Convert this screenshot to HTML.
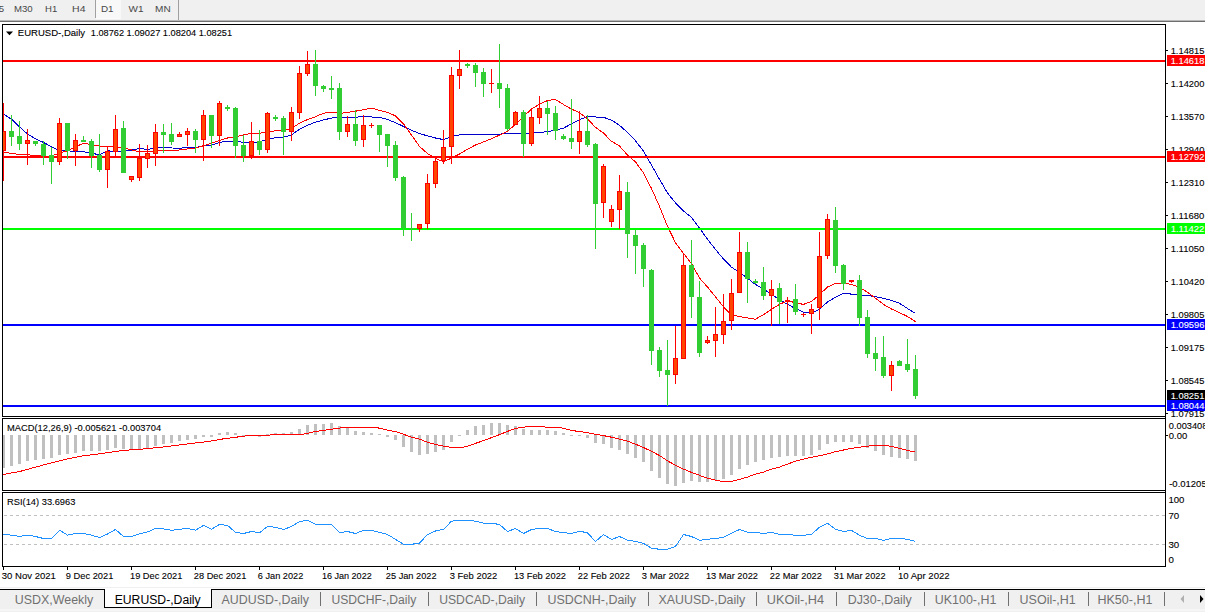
<!DOCTYPE html>
<html><head><meta charset="utf-8"><title>EURUSD Daily</title>
<style>
html,body{margin:0;padding:0;background:#fff}
body{width:1205px;height:612px;overflow:hidden;position:relative;font-family:"Liberation Sans",sans-serif}
svg{position:absolute;left:0;top:0;display:block}
text{font-family:"Liberation Sans",sans-serif;white-space:pre}
</style></head><body>
<svg width="1205" height="612" viewBox="0 0 1205 612">
<rect x="0" y="0" width="1205" height="20" fill="#f0f0f0"/>
<rect x="0" y="20" width="1205" height="1" fill="#b8b8b8"/>
<rect x="0" y="21" width="1205" height="1" fill="#6e6e6e"/>
<rect x="96" y="0" width="25" height="18" fill="#f8f8f8"/>
<rect x="96" y="18" width="25" height="1" fill="#fbfbfb"/>
<rect x="95" y="0" width="1" height="18" fill="#a0a0a0"/>
<rect x="178" y="0" width="1" height="20" fill="#a0a0a0"/>
<text x="-1.2" y="12.2" font-size="9.6" fill="#484848" stroke="#484848" stroke-width="0">5</text>
<text x="14.0" y="12.2" font-size="9.6" fill="#484848" stroke="#484848" stroke-width="0" textLength="18.7" lengthAdjust="spacingAndGlyphs">M30</text>
<text x="45.0" y="12.2" font-size="9.6" fill="#484848" stroke="#484848" stroke-width="0" textLength="12.2" lengthAdjust="spacingAndGlyphs">H1</text>
<text x="72.1" y="12.2" font-size="9.6" fill="#484848" stroke="#484848" stroke-width="0" textLength="13.4" lengthAdjust="spacingAndGlyphs">H4</text>
<text x="101.0" y="12.2" font-size="9.6" fill="#484848" stroke="#484848" stroke-width="0" textLength="12.6" lengthAdjust="spacingAndGlyphs">D1</text>
<text x="128.6" y="12.2" font-size="9.6" fill="#484848" stroke="#484848" stroke-width="0" textLength="15.0" lengthAdjust="spacingAndGlyphs">W1</text>
<text x="155.1" y="12.2" font-size="9.6" fill="#484848" stroke="#484848" stroke-width="0" textLength="15.6" lengthAdjust="spacingAndGlyphs">MN</text>
<rect x="2" y="24" width="1164" height="1" fill="#000"/>
<rect x="2" y="24" width="1" height="393" fill="#000"/>
<rect x="2" y="416" width="1164" height="1" fill="#000"/>
<rect x="2" y="418" width="1164" height="1" fill="#000"/>
<rect x="2" y="418" width="1" height="73" fill="#000"/>
<rect x="2" y="490" width="1164" height="1" fill="#000"/>
<rect x="2" y="492" width="1164" height="1" fill="#000"/>
<rect x="2" y="492" width="1" height="75" fill="#000"/>
<rect x="2" y="566" width="1164" height="1" fill="#000"/>
<rect x="1165" y="24" width="1" height="543" fill="#000"/>
<g shape-rendering="crispEdges">
<polyline points="3.5,114.2 11.5,119.2 19.5,126.9 27.5,134.0 35.5,138.9 43.5,142.4 51.5,146.7 59.5,150.5 67.5,150.9 75.5,151.3 83.5,151.6 91.5,153.3 99.5,154.7 107.5,150.9 115.5,151.3 123.5,151.3 131.5,150.2 139.5,148.5 147.5,149.5 155.5,148.1 163.5,147.4 171.5,148.0 179.5,148.1 187.5,147.8 195.5,147.5 203.5,146.1 211.5,145.0 219.5,142.5 227.5,141.1 235.5,141.1 243.5,142.5 251.5,142.5 259.5,141.9 267.5,139.4 275.5,137.7 283.5,137.2 291.5,134.9 299.5,129.2 307.5,125.2 315.5,122.2 323.5,119.9 331.5,118.1 339.5,117.2 347.5,117.4 355.5,117.4 363.5,116.2 371.5,117.0 379.5,117.2 387.5,119.5 395.5,122.6 403.5,126.5 411.5,130.2 419.5,133.7 427.5,135.8 435.5,138.0 443.5,139.6 451.5,136.5 459.5,134.9 467.5,134.9 475.5,134.9 483.5,134.9 491.5,134.6 499.5,134.2 507.5,133.1 515.5,133.1 523.5,133.1 531.5,133.1 539.5,132.4 547.5,131.7 555.5,130.3 563.5,128.1 571.5,123.9 579.5,119.7 587.5,116.5 595.5,117.0 603.5,117.3 611.5,120.1 619.5,125.3 627.5,132.4 635.5,140.8 643.5,151.2 651.5,165.1 659.5,179.3 667.5,193.0 675.5,202.9 683.5,211.0 691.5,217.3 699.5,228.1 707.5,239.2 715.5,249.5 723.5,259.1 731.5,267.2 739.5,272.5 747.5,278.2 755.5,284.5 763.5,288.9 771.5,294.6 779.5,299.5 787.5,304.4 795.5,308.5 803.5,312.1 811.5,313.1 819.5,309.3 827.5,302.0 835.5,297.1 843.5,293.3 851.5,294.1 859.5,295.5 867.5,295.5 875.5,296.8 883.5,298.2 891.5,300.4 899.5,303.3 907.5,308.5 915.5,313.5" fill="none" stroke="#0000cd" stroke-width="1"/>
<polyline points="3.5,152.3 11.5,153.4 19.5,154.4 27.5,154.7 35.5,155.8 43.5,156.0 51.5,156.0 59.5,153.0 67.5,150.9 75.5,146.7 83.5,143.4 91.5,144.5 99.5,146.2 107.5,146.2 115.5,146.7 123.5,147.6 131.5,149.9 139.5,151.9 147.5,151.6 155.5,151.3 163.5,150.2 171.5,150.6 179.5,150.0 187.5,149.0 195.5,148.1 203.5,145.7 211.5,143.3 219.5,140.5 227.5,138.0 235.5,137.0 243.5,134.9 251.5,133.4 259.5,133.4 267.5,131.6 275.5,130.9 283.5,130.2 291.5,128.4 299.5,123.2 307.5,119.5 315.5,116.7 323.5,113.2 331.5,112.2 339.5,113.4 347.5,112.4 355.5,111.2 363.5,109.7 371.5,108.1 379.5,110.3 387.5,112.4 395.5,115.9 403.5,123.9 411.5,135.1 419.5,146.4 427.5,153.5 435.5,158.4 443.5,161.7 451.5,158.1 459.5,154.0 467.5,149.2 475.5,145.0 483.5,141.9 491.5,138.7 499.5,135.1 507.5,131.4 515.5,124.2 523.5,116.5 531.5,109.1 539.5,104.2 547.5,100.5 555.5,99.5 563.5,104.5 571.5,109.1 579.5,112.6 587.5,118.9 595.5,127.4 603.5,133.1 611.5,141.3 619.5,146.0 627.5,155.1 635.5,161.9 643.5,173.0 651.5,188.5 659.5,206.5 667.5,226.3 675.5,242.7 683.5,253.4 691.5,263.6 699.5,278.0 707.5,287.0 715.5,296.9 723.5,306.8 731.5,314.9 739.5,316.5 747.5,318.0 755.5,319.2 763.5,314.6 771.5,309.3 779.5,304.4 787.5,300.7 795.5,302.8 803.5,304.4 811.5,301.5 819.5,294.6 827.5,287.0 835.5,283.5 843.5,282.9 851.5,284.5 859.5,287.3 867.5,292.2 875.5,298.2 883.5,304.4 891.5,309.0 899.5,312.6 907.5,316.5 915.5,321.6" fill="none" stroke="#ff0000" stroke-width="1"/>
<rect x="3" y="60" width="1162" height="2" fill="#ff0000"/>
<rect x="3" y="156" width="1162" height="2" fill="#ff0000"/>
<rect x="3" y="228" width="1162" height="2" fill="#00ff00"/>
<rect x="3" y="324" width="1162" height="2" fill="#0000ff"/>
<rect x="3" y="405" width="1162" height="2" fill="#0000ff"/>
<rect x="3" y="103" width="1" height="78" fill="#ff0000"/>
<rect x="1" y="131" width="5" height="20" fill="#ff0000"/>
<rect x="2" y="132" width="3" height="18" fill="#ff4500"/>
<rect x="11" y="115" width="1" height="31" fill="#32cd32"/>
<rect x="9" y="131" width="5" height="6" fill="#32cd32"/>
<rect x="19" y="121" width="1" height="29" fill="#32cd32"/>
<rect x="17" y="136" width="5" height="8" fill="#32cd32"/>
<rect x="27" y="129" width="1" height="36" fill="#ff0000"/>
<rect x="25" y="140" width="5" height="4" fill="#ff0000"/>
<rect x="26" y="141" width="3" height="2" fill="#ff4500"/>
<rect x="35" y="141" width="1" height="5" fill="#32cd32"/>
<rect x="33" y="141" width="5" height="3" fill="#32cd32"/>
<rect x="43" y="141" width="1" height="24" fill="#32cd32"/>
<rect x="41" y="144" width="5" height="12" fill="#32cd32"/>
<rect x="51" y="147" width="1" height="37" fill="#32cd32"/>
<rect x="49" y="155" width="5" height="7" fill="#32cd32"/>
<rect x="59" y="118" width="1" height="47" fill="#ff0000"/>
<rect x="57" y="123" width="5" height="39" fill="#ff0000"/>
<rect x="58" y="124" width="3" height="37" fill="#ff4500"/>
<rect x="67" y="123" width="1" height="36" fill="#32cd32"/>
<rect x="65" y="123" width="5" height="28" fill="#32cd32"/>
<rect x="75" y="134" width="1" height="32" fill="#ff0000"/>
<rect x="73" y="140" width="5" height="11" fill="#ff0000"/>
<rect x="74" y="141" width="3" height="9" fill="#ff4500"/>
<rect x="83" y="136" width="1" height="6" fill="#32cd32"/>
<rect x="81" y="140" width="5" height="2" fill="#32cd32"/>
<rect x="91" y="139" width="1" height="29" fill="#32cd32"/>
<rect x="89" y="141" width="5" height="15" fill="#32cd32"/>
<rect x="99" y="134" width="1" height="38" fill="#32cd32"/>
<rect x="97" y="155" width="5" height="15" fill="#32cd32"/>
<rect x="107" y="146" width="1" height="42" fill="#ff0000"/>
<rect x="105" y="151" width="5" height="19" fill="#ff0000"/>
<rect x="106" y="152" width="3" height="17" fill="#ff4500"/>
<rect x="115" y="115" width="1" height="41" fill="#ff0000"/>
<rect x="113" y="129" width="5" height="23" fill="#ff0000"/>
<rect x="114" y="130" width="3" height="21" fill="#ff4500"/>
<rect x="123" y="121" width="1" height="52" fill="#32cd32"/>
<rect x="121" y="128" width="5" height="45" fill="#32cd32"/>
<rect x="131" y="176" width="1" height="6" fill="#ff0000"/>
<rect x="129" y="176" width="5" height="4" fill="#ff0000"/>
<rect x="130" y="177" width="3" height="2" fill="#ff4500"/>
<rect x="139" y="144" width="1" height="37" fill="#ff0000"/>
<rect x="137" y="158" width="5" height="20" fill="#ff0000"/>
<rect x="138" y="159" width="3" height="18" fill="#ff4500"/>
<rect x="147" y="145" width="1" height="23" fill="#ff0000"/>
<rect x="145" y="153" width="5" height="6" fill="#ff0000"/>
<rect x="146" y="154" width="3" height="4" fill="#ff4500"/>
<rect x="155" y="124" width="1" height="42" fill="#ff0000"/>
<rect x="153" y="132" width="5" height="22" fill="#ff0000"/>
<rect x="154" y="133" width="3" height="20" fill="#ff4500"/>
<rect x="163" y="124" width="1" height="29" fill="#32cd32"/>
<rect x="161" y="132" width="5" height="3" fill="#32cd32"/>
<rect x="171" y="123" width="1" height="22" fill="#32cd32"/>
<rect x="169" y="134" width="5" height="8" fill="#32cd32"/>
<rect x="179" y="132" width="1" height="5" fill="#ff0000"/>
<rect x="177" y="134" width="5" height="3" fill="#ff0000"/>
<rect x="178" y="135" width="3" height="1" fill="#ff4500"/>
<rect x="187" y="128" width="1" height="18" fill="#ff0000"/>
<rect x="185" y="131" width="5" height="4" fill="#ff0000"/>
<rect x="186" y="132" width="3" height="2" fill="#ff4500"/>
<rect x="195" y="129" width="1" height="24" fill="#32cd32"/>
<rect x="193" y="131" width="5" height="9" fill="#32cd32"/>
<rect x="203" y="110" width="1" height="51" fill="#ff0000"/>
<rect x="201" y="115" width="5" height="25" fill="#ff0000"/>
<rect x="202" y="116" width="3" height="23" fill="#ff4500"/>
<rect x="211" y="115" width="1" height="33" fill="#32cd32"/>
<rect x="209" y="115" width="5" height="21" fill="#32cd32"/>
<rect x="219" y="101" width="1" height="45" fill="#ff0000"/>
<rect x="217" y="103" width="5" height="33" fill="#ff0000"/>
<rect x="218" y="104" width="3" height="31" fill="#ff4500"/>
<rect x="227" y="105" width="1" height="6" fill="#32cd32"/>
<rect x="225" y="107" width="5" height="2" fill="#32cd32"/>
<rect x="235" y="107" width="1" height="51" fill="#32cd32"/>
<rect x="233" y="108" width="5" height="38" fill="#32cd32"/>
<rect x="243" y="135" width="1" height="27" fill="#32cd32"/>
<rect x="241" y="145" width="5" height="11" fill="#32cd32"/>
<rect x="251" y="122" width="1" height="37" fill="#ff0000"/>
<rect x="249" y="141" width="5" height="15" fill="#ff0000"/>
<rect x="250" y="142" width="3" height="13" fill="#ff4500"/>
<rect x="259" y="130" width="1" height="25" fill="#32cd32"/>
<rect x="257" y="141" width="5" height="9" fill="#32cd32"/>
<rect x="267" y="112" width="1" height="41" fill="#ff0000"/>
<rect x="265" y="113" width="5" height="37" fill="#ff0000"/>
<rect x="266" y="114" width="3" height="35" fill="#ff4500"/>
<rect x="275" y="115" width="1" height="6" fill="#32cd32"/>
<rect x="273" y="117" width="5" height="2" fill="#32cd32"/>
<rect x="283" y="116" width="1" height="39" fill="#32cd32"/>
<rect x="281" y="118" width="5" height="14" fill="#32cd32"/>
<rect x="291" y="107" width="1" height="34" fill="#ff0000"/>
<rect x="289" y="112" width="5" height="20" fill="#ff0000"/>
<rect x="290" y="113" width="3" height="18" fill="#ff4500"/>
<rect x="299" y="66" width="1" height="53" fill="#ff0000"/>
<rect x="297" y="73" width="5" height="40" fill="#ff0000"/>
<rect x="298" y="74" width="3" height="38" fill="#ff4500"/>
<rect x="307" y="51" width="1" height="25" fill="#ff0000"/>
<rect x="305" y="64" width="5" height="10" fill="#ff0000"/>
<rect x="306" y="65" width="3" height="8" fill="#ff4500"/>
<rect x="315" y="50" width="1" height="46" fill="#32cd32"/>
<rect x="313" y="64" width="5" height="22" fill="#32cd32"/>
<rect x="323" y="85" width="1" height="7" fill="#32cd32"/>
<rect x="321" y="86" width="5" height="3" fill="#32cd32"/>
<rect x="331" y="76" width="1" height="23" fill="#32cd32"/>
<rect x="329" y="88" width="5" height="2" fill="#32cd32"/>
<rect x="339" y="83" width="1" height="57" fill="#32cd32"/>
<rect x="337" y="88" width="5" height="44" fill="#32cd32"/>
<rect x="347" y="116" width="1" height="21" fill="#ff0000"/>
<rect x="345" y="124" width="5" height="8" fill="#ff0000"/>
<rect x="346" y="125" width="3" height="6" fill="#ff4500"/>
<rect x="355" y="110" width="1" height="36" fill="#32cd32"/>
<rect x="353" y="124" width="5" height="17" fill="#32cd32"/>
<rect x="363" y="115" width="1" height="32" fill="#ff0000"/>
<rect x="361" y="125" width="5" height="15" fill="#ff0000"/>
<rect x="362" y="126" width="3" height="13" fill="#ff4500"/>
<rect x="371" y="123" width="1" height="5" fill="#ff0000"/>
<rect x="369" y="125" width="5" height="1" fill="#ff0000"/>
<rect x="379" y="125" width="1" height="27" fill="#32cd32"/>
<rect x="377" y="125" width="5" height="10" fill="#32cd32"/>
<rect x="387" y="134" width="1" height="33" fill="#32cd32"/>
<rect x="385" y="134" width="5" height="12" fill="#32cd32"/>
<rect x="395" y="141" width="1" height="40" fill="#32cd32"/>
<rect x="393" y="145" width="5" height="33" fill="#32cd32"/>
<rect x="403" y="176" width="1" height="60" fill="#32cd32"/>
<rect x="401" y="177" width="5" height="51" fill="#32cd32"/>
<rect x="411" y="213" width="1" height="28" fill="#32cd32"/>
<rect x="409" y="228" width="5" height="1" fill="#32cd32"/>
<rect x="419" y="224" width="1" height="8" fill="#ff0000"/>
<rect x="417" y="224" width="5" height="5" fill="#ff0000"/>
<rect x="418" y="225" width="3" height="3" fill="#ff4500"/>
<rect x="427" y="174" width="1" height="55" fill="#ff0000"/>
<rect x="425" y="183" width="5" height="41" fill="#ff0000"/>
<rect x="426" y="184" width="3" height="39" fill="#ff4500"/>
<rect x="435" y="158" width="1" height="30" fill="#ff0000"/>
<rect x="433" y="161" width="5" height="23" fill="#ff0000"/>
<rect x="434" y="162" width="3" height="21" fill="#ff4500"/>
<rect x="443" y="130" width="1" height="34" fill="#ff0000"/>
<rect x="441" y="147" width="5" height="14" fill="#ff0000"/>
<rect x="442" y="148" width="3" height="12" fill="#ff4500"/>
<rect x="451" y="67" width="1" height="97" fill="#ff0000"/>
<rect x="449" y="75" width="5" height="72" fill="#ff0000"/>
<rect x="450" y="76" width="3" height="70" fill="#ff4500"/>
<rect x="459" y="50" width="1" height="39" fill="#ff0000"/>
<rect x="457" y="69" width="5" height="7" fill="#ff0000"/>
<rect x="458" y="70" width="3" height="5" fill="#ff4500"/>
<rect x="467" y="63" width="1" height="5" fill="#32cd32"/>
<rect x="465" y="64" width="5" height="2" fill="#32cd32"/>
<rect x="475" y="63" width="1" height="24" fill="#32cd32"/>
<rect x="473" y="65" width="5" height="8" fill="#32cd32"/>
<rect x="483" y="68" width="1" height="29" fill="#32cd32"/>
<rect x="481" y="72" width="5" height="12" fill="#32cd32"/>
<rect x="491" y="69" width="1" height="24" fill="#ff0000"/>
<rect x="489" y="83" width="5" height="1" fill="#ff0000"/>
<rect x="499" y="44" width="1" height="64" fill="#32cd32"/>
<rect x="497" y="83" width="5" height="6" fill="#32cd32"/>
<rect x="507" y="84" width="1" height="47" fill="#32cd32"/>
<rect x="505" y="88" width="5" height="41" fill="#32cd32"/>
<rect x="515" y="111" width="1" height="14" fill="#ff0000"/>
<rect x="513" y="112" width="5" height="13" fill="#ff0000"/>
<rect x="514" y="113" width="3" height="11" fill="#ff4500"/>
<rect x="523" y="110" width="1" height="47" fill="#32cd32"/>
<rect x="521" y="112" width="5" height="32" fill="#32cd32"/>
<rect x="531" y="109" width="1" height="37" fill="#ff0000"/>
<rect x="529" y="117" width="5" height="27" fill="#ff0000"/>
<rect x="530" y="118" width="3" height="25" fill="#ff4500"/>
<rect x="539" y="96" width="1" height="28" fill="#ff0000"/>
<rect x="537" y="108" width="5" height="10" fill="#ff0000"/>
<rect x="538" y="109" width="3" height="8" fill="#ff4500"/>
<rect x="547" y="101" width="1" height="34" fill="#32cd32"/>
<rect x="545" y="108" width="5" height="6" fill="#32cd32"/>
<rect x="555" y="106" width="1" height="34" fill="#32cd32"/>
<rect x="553" y="113" width="5" height="18" fill="#32cd32"/>
<rect x="563" y="134" width="1" height="6" fill="#32cd32"/>
<rect x="561" y="136" width="5" height="3" fill="#32cd32"/>
<rect x="571" y="99" width="1" height="50" fill="#32cd32"/>
<rect x="569" y="138" width="5" height="4" fill="#32cd32"/>
<rect x="579" y="111" width="1" height="43" fill="#ff0000"/>
<rect x="577" y="131" width="5" height="11" fill="#ff0000"/>
<rect x="578" y="132" width="3" height="9" fill="#ff4500"/>
<rect x="587" y="115" width="1" height="32" fill="#32cd32"/>
<rect x="585" y="131" width="5" height="14" fill="#32cd32"/>
<rect x="595" y="143" width="1" height="106" fill="#32cd32"/>
<rect x="593" y="144" width="5" height="60" fill="#32cd32"/>
<rect x="603" y="164" width="1" height="54" fill="#ff0000"/>
<rect x="601" y="166" width="5" height="37" fill="#ff0000"/>
<rect x="602" y="167" width="3" height="35" fill="#ff4500"/>
<rect x="611" y="205" width="1" height="22" fill="#ff0000"/>
<rect x="609" y="209" width="5" height="13" fill="#ff0000"/>
<rect x="610" y="210" width="3" height="11" fill="#ff4500"/>
<rect x="619" y="175" width="1" height="54" fill="#ff0000"/>
<rect x="617" y="191" width="5" height="19" fill="#ff0000"/>
<rect x="618" y="192" width="3" height="17" fill="#ff4500"/>
<rect x="627" y="182" width="1" height="76" fill="#32cd32"/>
<rect x="625" y="192" width="5" height="42" fill="#32cd32"/>
<rect x="635" y="230" width="1" height="44" fill="#32cd32"/>
<rect x="633" y="235" width="5" height="11" fill="#32cd32"/>
<rect x="643" y="243" width="1" height="44" fill="#32cd32"/>
<rect x="641" y="245" width="5" height="24" fill="#32cd32"/>
<rect x="651" y="269" width="1" height="96" fill="#32cd32"/>
<rect x="649" y="270" width="5" height="81" fill="#32cd32"/>
<rect x="659" y="347" width="1" height="30" fill="#32cd32"/>
<rect x="657" y="350" width="5" height="21" fill="#32cd32"/>
<rect x="667" y="340" width="1" height="66" fill="#32cd32"/>
<rect x="665" y="370" width="5" height="5" fill="#32cd32"/>
<rect x="675" y="326" width="1" height="58" fill="#ff0000"/>
<rect x="673" y="358" width="5" height="17" fill="#ff0000"/>
<rect x="674" y="359" width="3" height="15" fill="#ff4500"/>
<rect x="683" y="254" width="1" height="105" fill="#ff0000"/>
<rect x="681" y="265" width="5" height="94" fill="#ff0000"/>
<rect x="682" y="266" width="3" height="92" fill="#ff4500"/>
<rect x="691" y="240" width="1" height="78" fill="#32cd32"/>
<rect x="689" y="265" width="5" height="32" fill="#32cd32"/>
<rect x="699" y="281" width="1" height="76" fill="#32cd32"/>
<rect x="697" y="297" width="5" height="56" fill="#32cd32"/>
<rect x="707" y="336" width="1" height="8" fill="#ff0000"/>
<rect x="705" y="340" width="5" height="3" fill="#ff0000"/>
<rect x="706" y="341" width="3" height="1" fill="#ff4500"/>
<rect x="715" y="307" width="1" height="50" fill="#ff0000"/>
<rect x="713" y="334" width="5" height="7" fill="#ff0000"/>
<rect x="714" y="335" width="3" height="5" fill="#ff4500"/>
<rect x="723" y="294" width="1" height="50" fill="#ff0000"/>
<rect x="721" y="321" width="5" height="14" fill="#ff0000"/>
<rect x="722" y="322" width="3" height="12" fill="#ff4500"/>
<rect x="731" y="279" width="1" height="51" fill="#ff0000"/>
<rect x="729" y="293" width="5" height="28" fill="#ff0000"/>
<rect x="730" y="294" width="3" height="26" fill="#ff4500"/>
<rect x="739" y="232" width="1" height="61" fill="#ff0000"/>
<rect x="737" y="252" width="5" height="41" fill="#ff0000"/>
<rect x="738" y="253" width="3" height="39" fill="#ff4500"/>
<rect x="747" y="242" width="1" height="61" fill="#32cd32"/>
<rect x="745" y="252" width="5" height="27" fill="#32cd32"/>
<rect x="755" y="279" width="1" height="5" fill="#32cd32"/>
<rect x="753" y="281" width="5" height="2" fill="#32cd32"/>
<rect x="763" y="267" width="1" height="33" fill="#32cd32"/>
<rect x="761" y="282" width="5" height="14" fill="#32cd32"/>
<rect x="771" y="280" width="1" height="46" fill="#ff0000"/>
<rect x="769" y="289" width="5" height="7" fill="#ff0000"/>
<rect x="770" y="290" width="3" height="5" fill="#ff4500"/>
<rect x="779" y="283" width="1" height="41" fill="#32cd32"/>
<rect x="777" y="288" width="5" height="14" fill="#32cd32"/>
<rect x="787" y="297" width="1" height="26" fill="#ff0000"/>
<rect x="785" y="300" width="5" height="2" fill="#ff0000"/>
<rect x="795" y="284" width="1" height="31" fill="#32cd32"/>
<rect x="793" y="299" width="5" height="13" fill="#32cd32"/>
<rect x="803" y="313" width="1" height="4" fill="#ff0000"/>
<rect x="801" y="314" width="5" height="1" fill="#ff0000"/>
<rect x="811" y="304" width="1" height="30" fill="#ff0000"/>
<rect x="809" y="309" width="5" height="5" fill="#ff0000"/>
<rect x="810" y="310" width="3" height="3" fill="#ff4500"/>
<rect x="819" y="232" width="1" height="88" fill="#ff0000"/>
<rect x="817" y="256" width="5" height="52" fill="#ff0000"/>
<rect x="818" y="257" width="3" height="50" fill="#ff4500"/>
<rect x="827" y="214" width="1" height="45" fill="#ff0000"/>
<rect x="825" y="219" width="5" height="37" fill="#ff0000"/>
<rect x="826" y="220" width="3" height="35" fill="#ff4500"/>
<rect x="835" y="207" width="1" height="66" fill="#32cd32"/>
<rect x="833" y="220" width="5" height="46" fill="#32cd32"/>
<rect x="843" y="264" width="1" height="26" fill="#32cd32"/>
<rect x="841" y="265" width="5" height="19" fill="#32cd32"/>
<rect x="851" y="280" width="1" height="3" fill="#ff0000"/>
<rect x="849" y="280" width="5" height="2" fill="#ff0000"/>
<rect x="859" y="275" width="1" height="51" fill="#32cd32"/>
<rect x="857" y="280" width="5" height="38" fill="#32cd32"/>
<rect x="867" y="310" width="1" height="48" fill="#32cd32"/>
<rect x="865" y="317" width="5" height="37" fill="#32cd32"/>
<rect x="875" y="337" width="1" height="34" fill="#32cd32"/>
<rect x="873" y="353" width="5" height="6" fill="#32cd32"/>
<rect x="883" y="336" width="1" height="42" fill="#32cd32"/>
<rect x="881" y="357" width="5" height="19" fill="#32cd32"/>
<rect x="891" y="361" width="1" height="30" fill="#ff0000"/>
<rect x="889" y="365" width="5" height="11" fill="#ff0000"/>
<rect x="890" y="366" width="3" height="9" fill="#ff4500"/>
<rect x="899" y="360" width="1" height="6" fill="#32cd32"/>
<rect x="897" y="361" width="5" height="5" fill="#32cd32"/>
<rect x="907" y="339" width="1" height="33" fill="#32cd32"/>
<rect x="905" y="364" width="5" height="6" fill="#32cd32"/>
<rect x="915" y="355" width="1" height="44" fill="#32cd32"/>
<rect x="913" y="369" width="5" height="27" fill="#32cd32"/>
<rect x="0" y="25" width="2" height="545" fill="#fff"/>
<rect x="2" y="25" width="1" height="391" fill="#000"/>
<rect x="2" y="435" width="3" height="33" fill="#c0c0c0"/>
<rect x="10" y="435" width="3" height="31" fill="#c0c0c0"/>
<rect x="18" y="435" width="3" height="29" fill="#c0c0c0"/>
<rect x="26" y="435" width="3" height="26" fill="#c0c0c0"/>
<rect x="34" y="435" width="3" height="25" fill="#c0c0c0"/>
<rect x="42" y="435" width="3" height="24" fill="#c0c0c0"/>
<rect x="50" y="435" width="3" height="23" fill="#c0c0c0"/>
<rect x="58" y="435" width="3" height="20" fill="#c0c0c0"/>
<rect x="66" y="435" width="3" height="19" fill="#c0c0c0"/>
<rect x="74" y="435" width="3" height="18" fill="#c0c0c0"/>
<rect x="82" y="435" width="3" height="16" fill="#c0c0c0"/>
<rect x="90" y="435" width="3" height="16" fill="#c0c0c0"/>
<rect x="98" y="435" width="3" height="16" fill="#c0c0c0"/>
<rect x="106" y="435" width="3" height="15" fill="#c0c0c0"/>
<rect x="114" y="435" width="3" height="13" fill="#c0c0c0"/>
<rect x="122" y="435" width="3" height="14" fill="#c0c0c0"/>
<rect x="130" y="435" width="3" height="15" fill="#c0c0c0"/>
<rect x="138" y="435" width="3" height="14" fill="#c0c0c0"/>
<rect x="146" y="435" width="3" height="13" fill="#c0c0c0"/>
<rect x="154" y="435" width="3" height="11" fill="#c0c0c0"/>
<rect x="162" y="435" width="3" height="9" fill="#c0c0c0"/>
<rect x="170" y="435" width="3" height="8" fill="#c0c0c0"/>
<rect x="178" y="435" width="3" height="6" fill="#c0c0c0"/>
<rect x="186" y="435" width="3" height="5" fill="#c0c0c0"/>
<rect x="194" y="435" width="3" height="4" fill="#c0c0c0"/>
<rect x="202" y="435" width="3" height="2" fill="#c0c0c0"/>
<rect x="210" y="435" width="3" height="2" fill="#c0c0c0"/>
<rect x="218" y="433" width="3" height="2" fill="#c0c0c0"/>
<rect x="226" y="432" width="3" height="3" fill="#c0c0c0"/>
<rect x="234" y="433" width="3" height="2" fill="#c0c0c0"/>
<rect x="242" y="435" width="3" height="1" fill="#c0c0c0"/>
<rect x="258" y="435" width="3" height="2" fill="#c0c0c0"/>
<rect x="266" y="434" width="3" height="1" fill="#c0c0c0"/>
<rect x="274" y="433" width="3" height="2" fill="#c0c0c0"/>
<rect x="282" y="433" width="3" height="2" fill="#c0c0c0"/>
<rect x="290" y="432" width="3" height="3" fill="#c0c0c0"/>
<rect x="298" y="429" width="3" height="6" fill="#c0c0c0"/>
<rect x="306" y="425" width="3" height="10" fill="#c0c0c0"/>
<rect x="314" y="424" width="3" height="11" fill="#c0c0c0"/>
<rect x="322" y="424" width="3" height="11" fill="#c0c0c0"/>
<rect x="330" y="423" width="3" height="12" fill="#c0c0c0"/>
<rect x="338" y="426" width="3" height="9" fill="#c0c0c0"/>
<rect x="346" y="427" width="3" height="8" fill="#c0c0c0"/>
<rect x="354" y="431" width="3" height="4" fill="#c0c0c0"/>
<rect x="362" y="432" width="3" height="3" fill="#c0c0c0"/>
<rect x="370" y="433" width="3" height="2" fill="#c0c0c0"/>
<rect x="378" y="434" width="3" height="1" fill="#c0c0c0"/>
<rect x="386" y="435" width="3" height="2" fill="#c0c0c0"/>
<rect x="394" y="435" width="3" height="5" fill="#c0c0c0"/>
<rect x="402" y="435" width="3" height="12" fill="#c0c0c0"/>
<rect x="410" y="435" width="3" height="17" fill="#c0c0c0"/>
<rect x="418" y="435" width="3" height="20" fill="#c0c0c0"/>
<rect x="426" y="435" width="3" height="19" fill="#c0c0c0"/>
<rect x="434" y="435" width="3" height="17" fill="#c0c0c0"/>
<rect x="442" y="435" width="3" height="15" fill="#c0c0c0"/>
<rect x="450" y="435" width="3" height="7" fill="#c0c0c0"/>
<rect x="458" y="435" width="3" height="1" fill="#c0c0c0"/>
<rect x="466" y="430" width="3" height="5" fill="#c0c0c0"/>
<rect x="474" y="426" width="3" height="9" fill="#c0c0c0"/>
<rect x="482" y="425" width="3" height="10" fill="#c0c0c0"/>
<rect x="490" y="423" width="3" height="12" fill="#c0c0c0"/>
<rect x="498" y="423" width="3" height="12" fill="#c0c0c0"/>
<rect x="506" y="425" width="3" height="10" fill="#c0c0c0"/>
<rect x="514" y="426" width="3" height="9" fill="#c0c0c0"/>
<rect x="522" y="429" width="3" height="6" fill="#c0c0c0"/>
<rect x="530" y="430" width="3" height="5" fill="#c0c0c0"/>
<rect x="538" y="430" width="3" height="5" fill="#c0c0c0"/>
<rect x="546" y="430" width="3" height="5" fill="#c0c0c0"/>
<rect x="554" y="431" width="3" height="4" fill="#c0c0c0"/>
<rect x="562" y="433" width="3" height="2" fill="#c0c0c0"/>
<rect x="570" y="435" width="3" height="1" fill="#c0c0c0"/>
<rect x="578" y="435" width="3" height="1" fill="#c0c0c0"/>
<rect x="586" y="435" width="3" height="3" fill="#c0c0c0"/>
<rect x="594" y="435" width="3" height="8" fill="#c0c0c0"/>
<rect x="602" y="435" width="3" height="9" fill="#c0c0c0"/>
<rect x="610" y="435" width="3" height="13" fill="#c0c0c0"/>
<rect x="618" y="435" width="3" height="15" fill="#c0c0c0"/>
<rect x="626" y="435" width="3" height="19" fill="#c0c0c0"/>
<rect x="634" y="435" width="3" height="23" fill="#c0c0c0"/>
<rect x="642" y="435" width="3" height="27" fill="#c0c0c0"/>
<rect x="650" y="435" width="3" height="36" fill="#c0c0c0"/>
<rect x="658" y="435" width="3" height="43" fill="#c0c0c0"/>
<rect x="666" y="435" width="3" height="49" fill="#c0c0c0"/>
<rect x="674" y="435" width="3" height="51" fill="#c0c0c0"/>
<rect x="682" y="435" width="3" height="48" fill="#c0c0c0"/>
<rect x="690" y="435" width="3" height="46" fill="#c0c0c0"/>
<rect x="698" y="435" width="3" height="47" fill="#c0c0c0"/>
<rect x="706" y="435" width="3" height="47" fill="#c0c0c0"/>
<rect x="714" y="435" width="3" height="45" fill="#c0c0c0"/>
<rect x="722" y="435" width="3" height="44" fill="#c0c0c0"/>
<rect x="730" y="435" width="3" height="40" fill="#c0c0c0"/>
<rect x="738" y="435" width="3" height="34" fill="#c0c0c0"/>
<rect x="746" y="435" width="3" height="30" fill="#c0c0c0"/>
<rect x="754" y="435" width="3" height="27" fill="#c0c0c0"/>
<rect x="762" y="435" width="3" height="25" fill="#c0c0c0"/>
<rect x="770" y="435" width="3" height="23" fill="#c0c0c0"/>
<rect x="778" y="435" width="3" height="22" fill="#c0c0c0"/>
<rect x="786" y="435" width="3" height="21" fill="#c0c0c0"/>
<rect x="794" y="435" width="3" height="21" fill="#c0c0c0"/>
<rect x="802" y="435" width="3" height="21" fill="#c0c0c0"/>
<rect x="810" y="435" width="3" height="20" fill="#c0c0c0"/>
<rect x="818" y="435" width="3" height="15" fill="#c0c0c0"/>
<rect x="826" y="435" width="3" height="9" fill="#c0c0c0"/>
<rect x="834" y="435" width="3" height="7" fill="#c0c0c0"/>
<rect x="842" y="435" width="3" height="7" fill="#c0c0c0"/>
<rect x="850" y="435" width="3" height="7" fill="#c0c0c0"/>
<rect x="858" y="435" width="3" height="9" fill="#c0c0c0"/>
<rect x="866" y="435" width="3" height="13" fill="#c0c0c0"/>
<rect x="874" y="435" width="3" height="16" fill="#c0c0c0"/>
<rect x="882" y="435" width="3" height="20" fill="#c0c0c0"/>
<rect x="890" y="435" width="3" height="22" fill="#c0c0c0"/>
<rect x="898" y="435" width="3" height="23" fill="#c0c0c0"/>
<rect x="906" y="435" width="3" height="24" fill="#c0c0c0"/>
<rect x="914" y="435" width="3" height="26" fill="#c0c0c0"/>
<rect x="2" y="419" width="1" height="71" fill="#000"/>
<polyline points="3.3,474.4 19.4,471.6 41.5,465.5 66.4,459.2 83.0,455.8 99.6,453.8 122.8,450.4 141.0,449.2 166.0,446.7 182.6,444.5 206.6,441.7 223.2,438.9 239.8,436.7 248.0,435.6 269.7,435.1 276.3,434.3 302.9,434.3 309.5,432.9 316.1,431.4 322.8,430.4 331.0,429.3 339.4,428.1 346.0,427.3 374.2,427.3 380.9,428.4 388.3,430.4 396.6,431.8 403.6,434.3 411.5,437.1 419.5,439.2 427.5,442.2 435.4,444.5 443.6,446.2 449.7,447.2 463.0,447.2 469.6,445.5 475.4,443.4 483.6,440.6 491.5,437.6 499.5,434.6 507.5,431.4 515.4,428.4 523.6,427.3 529.4,426.3 542.7,426.3 546.0,427.3 559.3,427.3 563.4,428.4 571.5,430.4 579.5,431.6 587.4,432.6 595.6,434.3 603.5,435.6 611.5,437.2 619.5,439.2 627.4,441.2 635.6,444.2 643.5,447.5 651.5,451.4 659.5,455.5 667.4,460.8 675.6,465.3 683.5,469.1 691.5,472.4 699.5,475.3 707.4,478.2 715.6,480.2 721.0,481.2 731.8,481.2 739.5,479.4 747.4,477.1 755.6,474.1 763.5,472.1 771.5,469.1 779.4,467.1 787.6,464.1 795.5,461.1 803.5,459.2 811.5,457.2 819.4,455.8 827.6,453.8 835.5,451.7 843.5,450.0 851.5,448.4 859.4,447.2 867.6,446.2 872.9,445.4 886.1,445.4 891.5,446.4 899.4,448.4 907.5,450.4 915.5,452.2" fill="none" stroke="#ff0000" stroke-width="1"/>
<line x1="3" y1="515.5" x2="1165" y2="515.5" stroke="#c0c0c0" stroke-width="1" stroke-dasharray="3 3" stroke-dashoffset="-1"/>
<line x1="3" y1="544.5" x2="1165" y2="544.5" stroke="#c0c0c0" stroke-width="1" stroke-dasharray="3 3" stroke-dashoffset="-1"/>
<polyline points="3.5,534.5 11.5,535.1 19.5,536.5 27.5,535.1 35.5,536.5 43.5,538.5 51.5,538.5 59.5,530.2 67.5,535.1 75.5,533.5 83.5,533.5 91.5,535.1 99.5,537.6 107.5,534.0 115.5,529.5 123.5,536.5 131.5,536.5 139.5,533.7 147.5,532.0 155.5,528.5 163.5,529.0 171.5,530.3 179.5,529.3 187.5,528.5 195.5,530.2 203.5,525.4 211.5,529.3 219.5,524.4 227.5,525.4 235.5,532.3 243.5,533.5 251.5,531.5 259.5,532.7 267.5,526.5 275.5,527.3 283.5,529.5 291.5,526.5 299.5,521.5 307.5,520.4 315.5,524.4 323.5,524.4 331.5,524.4 339.5,532.7 347.5,531.5 355.5,533.5 363.5,530.3 371.5,530.3 379.5,532.3 387.5,534.5 395.5,539.3 403.5,544.3 411.5,544.3 419.5,543.1 427.5,534.5 435.5,531.0 443.5,529.3 451.5,521.2 459.5,520.4 467.5,520.4 475.5,521.2 483.5,523.2 491.5,523.2 499.5,524.5 507.5,531.5 515.5,528.5 523.5,533.5 531.5,529.5 539.5,528.5 547.5,528.5 555.5,531.5 563.5,532.7 571.5,533.5 579.5,531.2 587.5,532.8 595.5,541.5 603.5,534.5 611.5,539.5 619.5,536.5 627.5,540.1 635.5,541.5 643.5,543.4 651.5,548.1 659.5,549.3 667.5,549.3 675.5,546.4 683.5,534.5 691.5,536.5 699.5,540.3 707.5,539.3 715.5,538.5 723.5,537.3 731.5,533.2 739.5,529.5 747.5,532.3 755.5,532.3 763.5,533.5 771.5,532.3 779.5,534.3 787.5,534.3 795.5,535.3 803.5,535.3 811.5,534.3 819.5,527.3 827.5,523.2 835.5,529.3 843.5,531.5 851.5,530.3 859.5,535.3 867.5,538.5 875.5,538.5 883.5,540.3 891.5,538.5 899.5,538.5 907.5,539.3 915.5,541.5" fill="none" stroke="#1e90ff" stroke-width="1"/>
<rect x="2" y="493" width="1" height="73" fill="#000"/>
<rect x="1166" y="50" width="2" height="1" fill="#000"/>
<rect x="1166" y="83" width="2" height="1" fill="#000"/>
<rect x="1166" y="116" width="2" height="1" fill="#000"/>
<rect x="1166" y="149" width="2" height="1" fill="#000"/>
<rect x="1166" y="182" width="2" height="1" fill="#000"/>
<rect x="1166" y="215" width="2" height="1" fill="#000"/>
<rect x="1166" y="248" width="2" height="1" fill="#000"/>
<rect x="1166" y="281" width="2" height="1" fill="#000"/>
<rect x="1166" y="314" width="2" height="1" fill="#000"/>
<rect x="1166" y="347" width="2" height="1" fill="#000"/>
<rect x="1166" y="380" width="2" height="1" fill="#000"/>
<rect x="1166" y="413" width="2" height="1" fill="#000"/>
<rect x="1166" y="435" width="2" height="1" fill="#000"/>
<rect x="3" y="567" width="1" height="3" fill="#000"/>
<rect x="67" y="567" width="1" height="3" fill="#000"/>
<rect x="131" y="567" width="1" height="3" fill="#000"/>
<rect x="195" y="567" width="1" height="3" fill="#000"/>
<rect x="259" y="567" width="1" height="3" fill="#000"/>
<rect x="323" y="567" width="1" height="3" fill="#000"/>
<rect x="387" y="567" width="1" height="3" fill="#000"/>
<rect x="451" y="567" width="1" height="3" fill="#000"/>
<rect x="515" y="567" width="1" height="3" fill="#000"/>
<rect x="579" y="567" width="1" height="3" fill="#000"/>
<rect x="643" y="567" width="1" height="3" fill="#000"/>
<rect x="707" y="567" width="1" height="3" fill="#000"/>
<rect x="771" y="567" width="1" height="3" fill="#000"/>
<rect x="835" y="567" width="1" height="3" fill="#000"/>
<rect x="899" y="567" width="1" height="3" fill="#000"/>
</g>
<path d="M6 31.4 L13 31.4 L9.5 35.2 Z" fill="#000"/>
<text x="17.8" y="35.6" font-size="9" fill="#000" stroke="#000" stroke-width="0.1" textLength="67.3" lengthAdjust="spacingAndGlyphs">EURUSD-,Daily</text>
<text x="90.8" y="35.6" font-size="9" fill="#000" stroke="#000" stroke-width="0.1" textLength="33.2" lengthAdjust="spacingAndGlyphs">1.08762</text>
<text x="126.6" y="35.6" font-size="9" fill="#000" stroke="#000" stroke-width="0.1" textLength="33.8" lengthAdjust="spacingAndGlyphs">1.09027</text>
<text x="162.8" y="35.6" font-size="9" fill="#000" stroke="#000" stroke-width="0.1" textLength="33.4" lengthAdjust="spacingAndGlyphs">1.08204</text>
<text x="198.7" y="35.6" font-size="9" fill="#000" stroke="#000" stroke-width="0.1" textLength="33.4" lengthAdjust="spacingAndGlyphs">1.08251</text>
<text x="1170.7" y="53.8" font-size="9" fill="#000" stroke="#000" stroke-width="0.1" textLength="33.7" lengthAdjust="spacingAndGlyphs">1.14815</text>
<text x="1170.7" y="86.8" font-size="9" fill="#000" stroke="#000" stroke-width="0.1" textLength="33.7" lengthAdjust="spacingAndGlyphs">1.14200</text>
<text x="1170.7" y="119.8" font-size="9" fill="#000" stroke="#000" stroke-width="0.1" textLength="33.7" lengthAdjust="spacingAndGlyphs">1.13570</text>
<text x="1170.7" y="152.8" font-size="9" fill="#000" stroke="#000" stroke-width="0.1" textLength="33.7" lengthAdjust="spacingAndGlyphs">1.12940</text>
<text x="1170.7" y="185.8" font-size="9" fill="#000" stroke="#000" stroke-width="0.1" textLength="33.7" lengthAdjust="spacingAndGlyphs">1.12310</text>
<text x="1170.7" y="218.8" font-size="9" fill="#000" stroke="#000" stroke-width="0.1" textLength="33.7" lengthAdjust="spacingAndGlyphs">1.11680</text>
<text x="1170.7" y="251.8" font-size="9" fill="#000" stroke="#000" stroke-width="0.1" textLength="33.7" lengthAdjust="spacingAndGlyphs">1.11050</text>
<text x="1170.7" y="284.8" font-size="9" fill="#000" stroke="#000" stroke-width="0.1" textLength="33.7" lengthAdjust="spacingAndGlyphs">1.10420</text>
<text x="1170.7" y="317.8" font-size="9" fill="#000" stroke="#000" stroke-width="0.1" textLength="33.7" lengthAdjust="spacingAndGlyphs">1.09805</text>
<text x="1170.7" y="350.8" font-size="9" fill="#000" stroke="#000" stroke-width="0.1" textLength="33.7" lengthAdjust="spacingAndGlyphs">1.09175</text>
<text x="1170.7" y="383.8" font-size="9" fill="#000" stroke="#000" stroke-width="0.1" textLength="33.7" lengthAdjust="spacingAndGlyphs">1.08545</text>
<text x="1170.7" y="416.8" font-size="9" fill="#000" stroke="#000" stroke-width="0.1" textLength="33.7" lengthAdjust="spacingAndGlyphs">1.07915</text>
<g shape-rendering="crispEdges">
<rect x="1167" y="55" width="38" height="11" fill="#ff0000"/>
<rect x="1167" y="151" width="38" height="11" fill="#ff0000"/>
<rect x="1167" y="223" width="38" height="11" fill="#00ff00"/>
<rect x="1167" y="319" width="38" height="11" fill="#0000ff"/>
<rect x="1167" y="390" width="38" height="10" fill="#000000"/>
<rect x="1167" y="400" width="38" height="11" fill="#0000ff"/>
</g>
<text x="1170.7" y="63.8" font-size="9" fill="#fff" stroke="#fff" stroke-width="0.1" textLength="33.7" lengthAdjust="spacingAndGlyphs">1.14618</text>
<text x="1170.7" y="159.8" font-size="9" fill="#fff" stroke="#fff" stroke-width="0.1" textLength="33.7" lengthAdjust="spacingAndGlyphs">1.12792</text>
<text x="1170.7" y="231.8" font-size="9" fill="#fff" stroke="#fff" stroke-width="0.1" textLength="33.7" lengthAdjust="spacingAndGlyphs">1.11422</text>
<text x="1170.7" y="327.8" font-size="9" fill="#fff" stroke="#fff" stroke-width="0.1" textLength="33.7" lengthAdjust="spacingAndGlyphs">1.09596</text>
<text x="1170.7" y="398.8" font-size="9" fill="#fff" stroke="#fff" stroke-width="0.1" textLength="33.7" lengthAdjust="spacingAndGlyphs">1.08251</text>
<text x="1170.7" y="408.8" font-size="9" fill="#fff" stroke="#fff" stroke-width="0.1" textLength="33.7" lengthAdjust="spacingAndGlyphs">1.08044</text>
<text x="1168.8" y="428.8" font-size="9" fill="#000" stroke="#000" stroke-width="0.1" textLength="38.6" lengthAdjust="spacingAndGlyphs">0.003408</text>
<text x="1168.8" y="438.9" font-size="9" fill="#000" stroke="#000" stroke-width="0.1" textLength="18.4" lengthAdjust="spacingAndGlyphs">0.00</text>
<text x="1169.2" y="486.6" font-size="9" fill="#000" stroke="#000" stroke-width="0.1" textLength="37.5" lengthAdjust="spacingAndGlyphs">-0.01205</text>
<text x="7.0" y="430.9" font-size="9" fill="#000" stroke="#000" stroke-width="0.1" textLength="154.1" lengthAdjust="spacingAndGlyphs">MACD(12,26,9) -0.005621 -0.003704</text>
<text x="1168.4" y="503.0" font-size="9" fill="#000" stroke="#000" stroke-width="0.1" textLength="16.0" lengthAdjust="spacingAndGlyphs">100</text>
<text x="1168.4" y="519.0" font-size="9" fill="#000" stroke="#000" stroke-width="0.1" textLength="10.8" lengthAdjust="spacingAndGlyphs">70</text>
<text x="1168.4" y="548.0" font-size="9" fill="#000" stroke="#000" stroke-width="0.1" textLength="10.8" lengthAdjust="spacingAndGlyphs">30</text>
<text x="1168.4" y="563.0" font-size="9" fill="#000" stroke="#000" stroke-width="0.1" textLength="5.4" lengthAdjust="spacingAndGlyphs">0</text>
<text x="7.0" y="504.9" font-size="9" fill="#000" stroke="#000" stroke-width="0.1" textLength="68.4" lengthAdjust="spacingAndGlyphs">RSI(14) 33.6963</text>
<text x="1.8" y="578.9" font-size="9.5" fill="#000" stroke="#000" stroke-width="0.1" textLength="54.1" lengthAdjust="spacingAndGlyphs">30 Nov 2021</text>
<text x="65.8" y="578.9" font-size="9.5" fill="#000" stroke="#000" stroke-width="0.1" textLength="47.5" lengthAdjust="spacingAndGlyphs">9 Dec 2021</text>
<text x="130.0" y="578.9" font-size="9.5" fill="#000" stroke="#000" stroke-width="0.1" textLength="52.4" lengthAdjust="spacingAndGlyphs">19 Dec 2021</text>
<text x="193.8" y="578.9" font-size="9.5" fill="#000" stroke="#000" stroke-width="0.1" textLength="52.5" lengthAdjust="spacingAndGlyphs">28 Dec 2021</text>
<text x="257.8" y="578.9" font-size="9.5" fill="#000" stroke="#000" stroke-width="0.1" textLength="45.5" lengthAdjust="spacingAndGlyphs">6 Jan 2022</text>
<text x="321.9" y="578.9" font-size="9.5" fill="#000" stroke="#000" stroke-width="0.1" textLength="49.8" lengthAdjust="spacingAndGlyphs">16 Jan 2022</text>
<text x="385.8" y="578.9" font-size="9.5" fill="#000" stroke="#000" stroke-width="0.1" textLength="50.8" lengthAdjust="spacingAndGlyphs">25 Jan 2022</text>
<text x="449.8" y="578.9" font-size="9.5" fill="#000" stroke="#000" stroke-width="0.1" textLength="47.5" lengthAdjust="spacingAndGlyphs">3 Feb 2022</text>
<text x="513.9" y="578.9" font-size="9.5" fill="#000" stroke="#000" stroke-width="0.1" textLength="52.1" lengthAdjust="spacingAndGlyphs">13 Feb 2022</text>
<text x="577.8" y="578.9" font-size="9.5" fill="#000" stroke="#000" stroke-width="0.1" textLength="52.1" lengthAdjust="spacingAndGlyphs">22 Feb 2022</text>
<text x="641.8" y="578.9" font-size="9.5" fill="#000" stroke="#000" stroke-width="0.1" textLength="47.5" lengthAdjust="spacingAndGlyphs">3 Mar 2022</text>
<text x="705.9" y="578.9" font-size="9.5" fill="#000" stroke="#000" stroke-width="0.1" textLength="52.1" lengthAdjust="spacingAndGlyphs">13 Mar 2022</text>
<text x="769.8" y="578.9" font-size="9.5" fill="#000" stroke="#000" stroke-width="0.1" textLength="52.1" lengthAdjust="spacingAndGlyphs">22 Mar 2022</text>
<text x="833.8" y="578.9" font-size="9.5" fill="#000" stroke="#000" stroke-width="0.1" textLength="51.8" lengthAdjust="spacingAndGlyphs">31 Mar 2022</text>
<text x="897.9" y="578.9" font-size="9.5" fill="#000" stroke="#000" stroke-width="0.1" textLength="51.8" lengthAdjust="spacingAndGlyphs">10 Apr 2022</text>
<g shape-rendering="crispEdges">
<rect x="0" y="587" width="1205" height="1" fill="#f0f0f0"/>
<rect x="0" y="588" width="1205" height="1" fill="#fcfcfc"/>
<rect x="0" y="589" width="1205" height="1" fill="#000"/>
<rect x="0" y="590" width="1205" height="22" fill="#f0f0f0"/>
<rect x="0" y="609" width="1205" height="2" fill="#f6f6f6"/>
<rect x="105" y="588" width="106" height="19" fill="#fff"/>
<rect x="104" y="589" width="1" height="19" fill="#000"/>
<rect x="211" y="589" width="1" height="19" fill="#000"/>
<rect x="104" y="607" width="108" height="1" fill="#000"/>
<rect x="320" y="592" width="1" height="14" fill="#707070"/>
<rect x="428" y="592" width="1" height="14" fill="#707070"/>
<rect x="536" y="592" width="1" height="14" fill="#707070"/>
<rect x="648" y="592" width="1" height="14" fill="#707070"/>
<rect x="756" y="592" width="1" height="14" fill="#707070"/>
<rect x="836" y="592" width="1" height="14" fill="#707070"/>
<rect x="924" y="592" width="1" height="14" fill="#707070"/>
<rect x="1008" y="592" width="1" height="14" fill="#707070"/>
<rect x="1088" y="592" width="1" height="14" fill="#707070"/>
<rect x="1164" y="592" width="1" height="14" fill="#707070"/>
</g>
<text x="14.8" y="603.5" font-size="12" fill="#707070" stroke="#707070" stroke-width="0" textLength="78.5" lengthAdjust="spacingAndGlyphs">USDX,Weekly</text>
<text x="114.7" y="603.5" font-size="12" fill="#000" stroke="#000" stroke-width="0" textLength="86.0" lengthAdjust="spacingAndGlyphs">EURUSD-,Daily</text>
<text x="221.6" y="603.5" font-size="12" fill="#707070" stroke="#707070" stroke-width="0" textLength="87.4" lengthAdjust="spacingAndGlyphs">AUDUSD-,Daily</text>
<text x="331.4" y="603.5" font-size="12" fill="#707070" stroke="#707070" stroke-width="0" textLength="84.9" lengthAdjust="spacingAndGlyphs">USDCHF-,Daily</text>
<text x="439.2" y="603.5" font-size="12" fill="#707070" stroke="#707070" stroke-width="0" textLength="85.9" lengthAdjust="spacingAndGlyphs">USDCAD-,Daily</text>
<text x="547.5" y="603.5" font-size="12" fill="#707070" stroke="#707070" stroke-width="0" textLength="88.6" lengthAdjust="spacingAndGlyphs">USDCNH-,Daily</text>
<text x="658.5" y="603.5" font-size="12" fill="#707070" stroke="#707070" stroke-width="0" textLength="86.7" lengthAdjust="spacingAndGlyphs">XAUUSD-,Daily</text>
<text x="766.8" y="603.5" font-size="12" fill="#707070" stroke="#707070" stroke-width="0" textLength="57.3" lengthAdjust="spacingAndGlyphs">UKOil-,H4</text>
<text x="847.7" y="603.5" font-size="12" fill="#707070" stroke="#707070" stroke-width="0" textLength="64.1" lengthAdjust="spacingAndGlyphs">DJ30-,Daily</text>
<text x="934.8" y="603.5" font-size="12" fill="#707070" stroke="#707070" stroke-width="0" textLength="61.6" lengthAdjust="spacingAndGlyphs">UK100-,H1</text>
<text x="1019.6" y="603.5" font-size="12" fill="#707070" stroke="#707070" stroke-width="0" textLength="56.2" lengthAdjust="spacingAndGlyphs">USOil-,H1</text>
<text x="1097.4" y="603.5" font-size="12" fill="#707070" stroke="#707070" stroke-width="0" textLength="55.1" lengthAdjust="spacingAndGlyphs">HK50-,H1</text>
<path d="M1184 595 L1184 603 L1180.5 599 Z" fill="#b0b0b0"/>
<path d="M1200 595 L1200 603 L1203.5 599 Z" fill="#000"/>
</svg>
</body></html>
